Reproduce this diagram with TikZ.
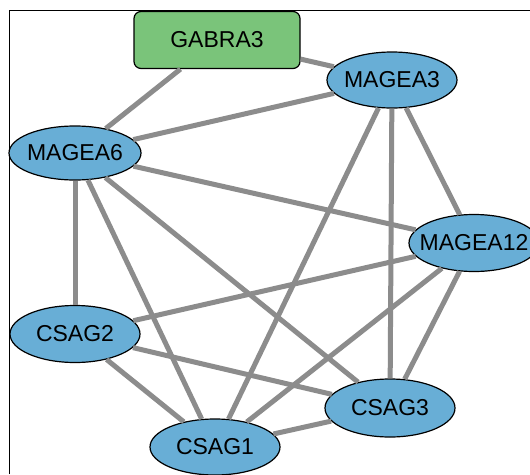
\documentclass[tikz,border=0pt]{standalone}
\usepackage{fontspec}
\setmainfont{Liberation Sans}
\usetikzlibrary{shapes.geometric}
\definecolor{nodeblue}{RGB}{104,174,214}
\definecolor{nodegreen}{RGB}{122,196,122}
\definecolor{edgegray}{RGB}{140,140,140}
\newcommand{\glabel}[1]{\makebox[0pt]{#1}}
\tikzset{
  gene/.style={ellipse, draw=black, line width=1.2pt, fill=nodeblue,
    minimum width=130pt, minimum height=56pt, inner sep=0pt,
    font=\fontsize{23}{23}\selectfont},
  seed/.style={rectangle, rounded corners=7pt, draw=black, line width=1.2pt, fill=nodegreen,
    minimum width=166pt, minimum height=57pt, inner sep=0pt,
    font=\fontsize{23}{23}\selectfont},
  link/.style={draw=edgegray, line width=5pt}
}
\begin{document}
\begin{tikzpicture}[x=1pt,y=-1pt]
\useasboundingbox (0,0) rectangle (530,474);
\fill[white] (0,0) rectangle (530,474);
\draw[line width=1pt] (9,474) -- (9,10) -- (530,10);
\node[seed] (gabra3) at (217,40) {GABRA3};
\node[gene] (magea3) at (392,80) {\glabel{MAGEA3}};
\node[gene, minimum width=132pt, minimum height=54pt] (magea6) at (75,153) {\glabel{MAGEA6}};
\node[gene, minimum height=57pt] (magea12) at (474,243) {\glabel{MAGEA12}};
\node[gene, minimum height=57pt] (csag2) at (75,334) {\glabel{CSAG2}};
\node[gene, minimum height=58pt] (csag3) at (390,408) {\glabel{CSAG3}};
\node[gene] (csag1) at (215,447) {\glabel{CSAG1}};
\begin{scope}[link]
\draw (gabra3) -- (magea3);
\draw (gabra3) -- (magea6);
\draw (magea3) -- (magea6);
\draw (magea3) -- (csag1);
\draw (magea3) -- (csag3);
\draw (magea3) -- (magea12);
\draw (magea6) -- (magea12);
\draw (magea6) -- (csag2);
\draw (magea6) -- (csag1);
\draw (magea6) -- (csag3);
\draw (magea12) -- (csag2);
\draw (magea12) -- (csag1);
\draw (magea12) -- (csag3);
\draw (csag2) -- (csag3);
\draw (csag2) -- (csag1);
\draw (csag1) -- (csag3);
\end{scope}
\end{tikzpicture}
\end{document}
